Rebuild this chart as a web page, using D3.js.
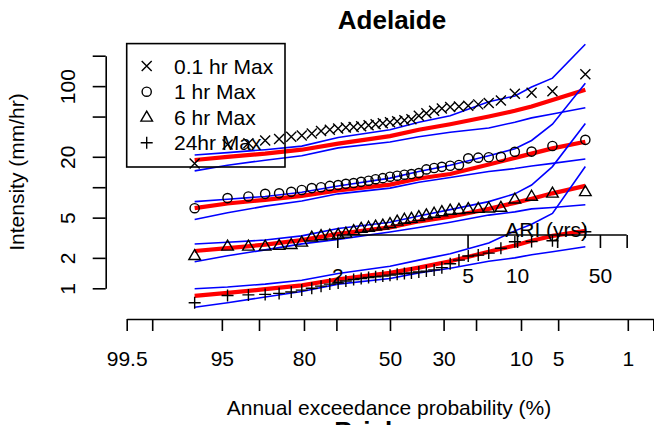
<!DOCTYPE html>
<html><head><meta charset="utf-8">
<script src="https://cdn.jsdelivr.net/npm/d3@7"></script>
<style>
html,body{margin:0;padding:0;background:#fff;}
svg{display:block;font-family:"Liberation Sans",Arial,Helvetica,sans-serif;}
</style></head>
<body><svg id="chart" width="654" height="425"></svg>
<script>
// ---- data ----
const title = "Adelaide";
const nextTitle = "Brisbane";
const seriesNames = ["0.1 hr Max", "1 hr Max", "6 hr Max", "24hr Max"];
// plotting positions (AEP %) of the ranked annual maxima
const pointAEP = [97.2,94.4,91.7,88.9,86.1,83.3,80.6,77.8,75.0,72.2,69.4,66.7,63.9,61.1,58.3,55.6,52.8,50.0,47.2,44.4,41.7,38.9,36.1,33.3,30.6,27.8,25.0,22.2,19.4,16.7,13.9,11.1,8.3,5.6,2.8];
const obs01 = [17.2,26.5,27.2,29,30,31.5,32.5,34,36,37,38,39,39.5,40,41,42,43,44,45,46,47,51,54,57,60,62,63,64,66,68,72,84,86,89,131];
const obs1  = [6.2,7.8,8.1,8.6,8.7,9.0,9.4,9.8,10.0,10.3,10.5,10.8,11.0,11.3,11.6,12.0,12.3,12.7,13.0,13.3,13.5,13.8,15.0,15.5,15.9,16.3,16.6,19.3,19.6,19.8,20.0,22.4,22.5,25.6,29.4];
const obs6  = [2.1,2.6,2.6,2.6,2.65,2.7,2.85,3.2,3.3,3.35,3.4,3.5,3.7,3.9,4.0,4.1,4.2,4.35,4.6,4.8,4.9,5.1,5.3,5.5,5.7,5.9,6.0,6.1,6.15,6.2,6.3,7.6,8.1,8.7,9.0];
const obs24 = [0.72,0.85,0.86,0.87,0.89,0.92,0.96,1.0,1.05,1.1,1.13,1.18,1.22,1.25,1.28,1.3,1.32,1.35,1.38,1.4,1.42,1.45,1.48,1.52,1.6,1.75,1.9,2.09,2.13,2.23,2.49,2.89,2.9,2.95,3.63];
// fitted curves and confidence limits, read at these AEP (%)
const lineAEP = [97.2,94.4,88.9,80.6,69.4,50.0,38.9,27.8,16.7,11.1,8.3,5.6,2.8];
const fit01 = [18.6,20,21.5,23.5,27,32,37,42,50,57,63,73,92];
const up01  = [20.8,22,23.5,25.5,31,37,44,51,70,80,98,120,260];
const lo01  = [14.5,16.5,18.5,20.5,24.5,28,31.6,35,38.5,44,48.5,53,61];
const fit1  = [6.2,6.9,7.5,8.2,9.3,10.6,12.2,13.5,16.8,19.5,21.5,24.2,28.2];
const up1   = [7.2,7.6,8.1,8.9,10.3,12.3,14.3,16.5,20.5,24,29,42,107];
const lo1   = [4.8,5.6,6.5,7.3,8.6,9.8,11.2,12.5,14.3,15.3,16.2,17.2,19.0];
const fit6  = [2.34,2.5,2.7,3.0,3.45,4.0,4.6,5.1,6.1,7.0,7.7,8.7,10.3];
const up6   = [2.74,2.85,3.0,3.3,3.9,4.5,5.2,6.0,7.2,8.6,10.5,16,42.7];
const lo6   = [1.83,2.1,2.4,2.75,3.05,3.6,4.0,4.5,5.3,5.7,6.1,6.3,6.7];
const fit24 = [0.84,0.9,0.98,1.07,1.23,1.42,1.6,1.85,2.3,2.65,2.95,3.3,3.7];
const up24  = [0.99,1.03,1.1,1.2,1.4,1.65,1.9,2.2,2.8,3.7,4.3,5.5,16];
const lo24  = [0.65,0.72,0.82,0.93,1.1,1.25,1.42,1.58,1.85,2.0,2.15,2.3,2.58];
// axes
const aepTicks  = [99.5,99,95,90,80,70,50,30,20,10,5,1,0.5];
const aepLabels = ["99.5","","95","","80","","50","30","","10","5","1",""];
const yTicks  = [1,2,5,10,20,50,100,200];
const yLabels = ["1","2","5","","20","","100",""];
const ariTickAEP = [69.7,22.4,10.7,5.1,2.0,1.03];
const ariLabels  = ["2","5","10","","50",""];

// ---- helpers ----
function qnorm(p){
  const a=[-3.969683028665376e+01,2.209460984245205e+02,-2.759285104469687e+02,1.383577518672690e+02,-3.066479806614716e+01,2.506628277459239e+00];
  const b=[-5.447609879822406e+01,1.615858368580409e+02,-1.556989798598866e+02,6.680131188771972e+01,-1.328068155288572e+01];
  const c=[-7.784894002430293e-03,-3.223964580411365e-01,-2.400758277161838e+00,-2.549732539343734e+00,4.374664141464968e+00,2.938163982698783e+00];
  const d=[7.784695709041462e-03,3.224671290700398e-01,2.445134137142996e+00,3.754408661907416e+00];
  const pl=0.02425, ph=1-pl;
  if(p<pl){const q=Math.sqrt(-2*Math.log(p));return (((((c[0]*q+c[1])*q+c[2])*q+c[3])*q+c[4])*q+c[5])/((((d[0]*q+d[1])*q+d[2])*q+d[3])*q+1);}
  if(p<=ph){const q=p-0.5,r=q*q;return (((((a[0]*r+a[1])*r+a[2])*r+a[3])*r+a[4])*r+a[5])*q/(((((b[0]*r+b[1])*r+b[2])*r+b[3])*r+b[4])*r+1);}
  const q=Math.sqrt(-2*Math.log(1-p));return -(((((c[0]*q+c[1])*q+c[2])*q+c[3])*q+c[4])*q+c[5])/((((d[0]*q+d[1])*q+d[2])*q+d[3])*q+1);
}
const zOf = aep => qnorm(1 - aep/100);

const svg = d3.select("#chart");
const FS = 21;
const zScale = d3.scaleLinear().domain([zOf(99.5), zOf(0.5)]).range([126.7, 653.3]);
const xPos = aep => zScale(zOf(aep));
const y = d3.scaleLog().domain([1,200]).range([288.3, 55.7]);

// ---- title ----
svg.append("text").attr("x",392).attr("y",28.5).attr("text-anchor","middle")
  .attr("font-weight","bold").attr("font-size",26).text(title);
svg.append("text").attr("x",390).attr("y",440).attr("text-anchor","middle")
  .attr("font-weight","bold").attr("font-size",26).text(nextTitle);

// ---- x axis ----
const xAxis = d3.axisBottom(zScale).tickValues(aepTicks.map(zOf))
  .tickFormat((d,i)=>aepLabels[i]).tickSizeInner(12).tickSizeOuter(0).tickPadding(20);
const gx = svg.append("g").attr("transform","translate(0,319)").call(xAxis);
gx.selectAll("path,line").attr("stroke","#000").attr("stroke-width",1.6);
gx.selectAll("text").attr("font-size",FS).attr("font-family","Liberation Sans, Arial, sans-serif").attr("fill","#000");
svg.append("text").attr("x",389).attr("y",415).attr("text-anchor","middle").attr("font-size",FS).text("Annual exceedance probability (%)");

// ---- y axis ----
const yAxis = d3.axisLeft(y).tickValues(yTicks).tickFormat((d,i)=>yLabels[i])
  .tickSizeInner(13).tickSizeOuter(0);
const gy = svg.append("g").attr("transform","translate(105.7,0)").call(yAxis);
gy.selectAll("path,line").attr("stroke","#000").attr("stroke-width",1.6);
gy.selectAll("text").attr("font-size",FS).attr("font-family","Liberation Sans, Arial, sans-serif").attr("fill","#000")
  .attr("x",null).attr("dy",null).attr("text-anchor","middle")
  .attr("transform","translate(-30.7,0) rotate(-90)");
svg.append("text").attr("transform","translate(23.5,172) rotate(-90)").attr("text-anchor","middle")
  .attr("font-size",FS).text("Intensity (mm/hr)");

// ---- curves ----
const lineGen = d3.line().x((d,i)=>xPos(lineAEP[i])).y(d=>y(d));
const curves = [[up01,lo01,fit01],[up1,lo1,fit1],[up6,lo6,fit6],[up24,lo24,fit24]];
curves.forEach(([u,l,f])=>{
  [u,l].forEach(s=>svg.append("path").attr("d",lineGen(s)).attr("fill","none").attr("stroke","#0000ff").attr("stroke-width",1.6));
  svg.append("path").attr("d",lineGen(f)).attr("fill","none").attr("stroke","#ff0000").attr("stroke-width",4.2);
});

// ---- points ----
const sym = {
  cross: (g,cx,cy)=>g.append("path").attr("d",`M${cx-5},${cy-5}L${cx+5},${cy+5}M${cx-5},${cy+5}L${cx+5},${cy-5}`),
  circle:(g,cx,cy)=>g.append("circle").attr("cx",cx).attr("cy",cy).attr("r",4.6),
  tri:   (g,cx,cy)=>g.append("path").attr("d",`M${cx},${cy-6.2}L${cx+5.8},${cy+3.8}L${cx-5.8},${cy+3.8}Z`),
  plus:  (g,cx,cy)=>g.append("path").attr("d",`M${cx-6},${cy}L${cx+6},${cy}M${cx},${cy-6}L${cx},${cy+6}`)
};
const symKeys = ["cross","circle","tri","plus"];
const obs = [obs01,obs1,obs6,obs24];
const gp = svg.append("g").attr("fill","none").attr("stroke","#000").attr("stroke-width",1.4);
obs.forEach((s,si)=>s.forEach((v,i)=>sym[symKeys[si]](gp,xPos(pointAEP[i]),y(v))));

// ---- ARI axis (drawn inside plot) ----
const ariAxis = d3.axisBottom(zScale).tickValues(ariTickAEP.map(zOf))
  .tickFormat((d,i)=>ariLabels[i]).tickSizeInner(13).tickSizeOuter(0).tickPadding(20);
const ga = svg.append("g").attr("transform","translate(0,235)").call(ariAxis);
ga.select("path.domain").remove();
ga.append("line").attr("x1",xPos(ariTickAEP[0])).attr("x2",xPos(ariTickAEP[ariTickAEP.length-1]))
  .attr("y1",0).attr("y2",0);
ga.selectAll("line").attr("stroke","#000").attr("stroke-width",1.6);
ga.selectAll("text").attr("font-size",FS).attr("font-family","Liberation Sans, Arial, sans-serif").attr("fill","#000");
svg.append("text").attr("x",546.7).attr("y",236.5).attr("text-anchor","middle").attr("font-size",FS).text("ARI (yrs)");

// ---- legend ----
const lg = svg.append("g");
lg.append("rect").attr("x",126.7).attr("y",43.6).attr("width",158.3).attr("height",123.4)
  .attr("fill","none").attr("stroke","#000").attr("stroke-width",1.6);
const rows = [66,91.7,117.3,142.7];
const gl = lg.append("g").attr("fill","none").attr("stroke","#000").attr("stroke-width",1.4);
seriesNames.forEach((n,i)=>{
  sym[symKeys[i]](gl,146.7,rows[i]);
  lg.append("text").attr("x",174).attr("y",rows[i]).attr("dy","0.36em").attr("font-size",FS).text(n);
});
</script></body></html>
